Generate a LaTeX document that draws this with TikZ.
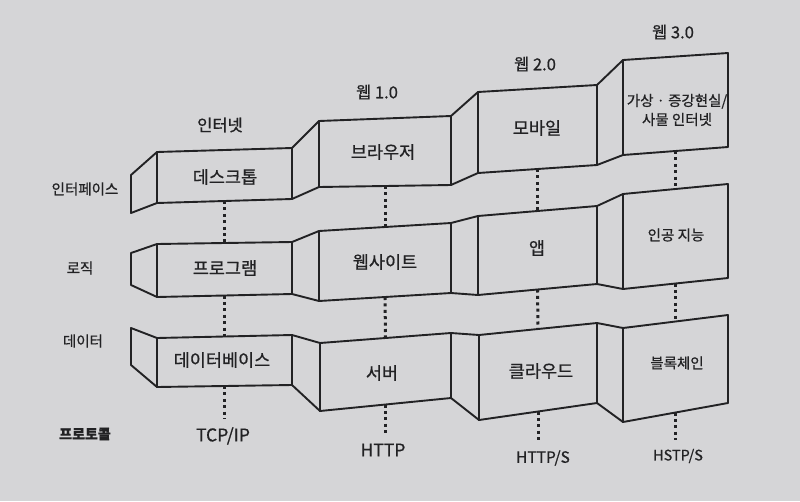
\documentclass[tikz,border=0pt]{standalone}
\usepackage{fontspec}
\setmainfont{Noto Sans CJK KR}[RawFeature={embolden=0.7}]
\usetikzlibrary{calc}
\definecolor{paper}{RGB}{213,213,215}
\definecolor{ink}{RGB}{34,34,36}

\begin{document}
\begin{tikzpicture}[x=1pt,y=-1pt,
  panel/.style={draw=ink,line width=1.9pt,line join=round,fill=paper},
  dotline/.style={draw=ink,line width=3pt,dash pattern=on 3pt off 3.4pt,shorten >=5pt},
  boxtext/.style={text=ink,font=\fontsize{17.5}{20}\selectfont},
  smalltext/.style={text=ink,font=\fontsize{14.5}{19}\selectfont,align=center},
  eratext/.style={text=ink,font=\fontsize{16.5}{18}\selectfont},
  sidetext/.style={text=ink,font=\fontsize{14.5}{17}\selectfont},
  prototext/.style={text=ink,font=\fontsize{17.5}{20}\selectfont}]
  \fill[paper] (0,0) rectangle (800,501);
  \useasboundingbox (0,0) rectangle (800,501);
  % panels, row by row
  \foreach \n/\xa/\xb/\ta/\ba/\tb/\bb in {
    11/157/292/152/203/148/199, 12/319/451/121/187/116/185, 13/478/597/92/173/85/165, 14/623/728/60/155/53/147,
    21/157/292/244/297/242/294, 22/319/451/231/301/223/293, 23/478/597/216/295/206/284, 24/623/728/194/289/184/278,
    31/157/292/338/387/335/385, 32/320/451/343/411/333/398, 33/479/597/335/420/323/403, 34/623/728/328/422/315/403}
    \draw[panel] (\xa,\ta) coordinate (p\n-tl) -- (\xb,\tb) coordinate (p\n-tr)
      -- (\xb,\bb) coordinate (p\n-br) -- (\xa,\ba) coordinate (p\n-bl) -- cycle;
  \foreach \r in {1,2,3}
    \foreach \c/\d in {1/2,2/3,3/4}
      \draw[panel] (p\r\c-tr) -- (p\r\d-tl) -- (p\r\d-bl) -- (p\r\c-br) -- cycle;
  \foreach \r/\t/\b in {1/175/213,2/253/285,3/328/365}
    \draw[panel] (131,\t) -- (p\r1-tl) -- (p\r1-bl) -- (131,\b) -- cycle;
  % texts
  \node[eratext] (inet) at (220,125) {인터넷};
  \node[eratext] (web1) at (377,92) {웹 1.0};
  \node[eratext] (web2) at (535,64) {웹 2.0};
  \node[eratext] (web3) at (673,32) {웹 3.0};
  \node[sidetext] (iface) at (85,189) {인터페이스};
  \node[sidetext] (logic) at (80,268) {로직};
  \node[sidetext] (data) at (83,341) {데이터};
  \node[sidetext,font=\fontsize{14}{16}\bfseries] (proto) at (85,434) {프로토콜};
  \node[boxtext] (desk) at (225,177) {데스크톱};
  \node[boxtext] (brow) at (383,152) {브라우저};
  \node[boxtext] (mob) at (537,128) {모바일};
  \node[smalltext] (xr) at (677,110) {가상 · 증강현실/\\사물 인터넷};
  \node[boxtext] (prog) at (225,268) {프로그램};
  \node[boxtext] (site) at (385,262) {웹사이트};
  \node[boxtext] (app) at (537,248) {앱};
  \node[smalltext] (ai) at (676,235) {인공 지능};
  \node[boxtext] (db) at (222,360) {데이터베이스};
  \node[boxtext] (srv) at (382,373) {서버};
  \node[boxtext] (cloud) at (541,371) {클라우드};
  \node[smalltext] (chain) at (677,363) {블록체인};
  \node[prototext] (tcp) at (223,436) {TCP/IP};
  \node[prototext] (http) at (383,450) {HTTP};
  \node[prototext,font=\fontsize{15.5}{18}\selectfont] (https) at (543,458) {HTTP/S};
  \node[prototext,font=\fontsize{14.5}{17}\selectfont] (hstp) at (678,456) {HSTP/S};
  % dotted links
  \foreach \c/\lab in {1/tcp,2/http,3/https,4/hstp}{
    \draw[dotline,shorten >=0pt] ($(p1\c-bl)!.5!(p1\c-br)$) -- ($(p2\c-tl)!.5!(p2\c-tr)$);
    \draw[dotline,shorten >=0pt] ($(p2\c-bl)!.5!(p2\c-br)$) -- ($(p3\c-tl)!.5!(p3\c-tr)$);
    \coordinate (m\c) at ($(p3\c-bl)!.5!(p3\c-br)$);
    \draw[dotline] (m\c) -- (m\c |- \lab.north);
  }
\end{tikzpicture}
\end{document}
